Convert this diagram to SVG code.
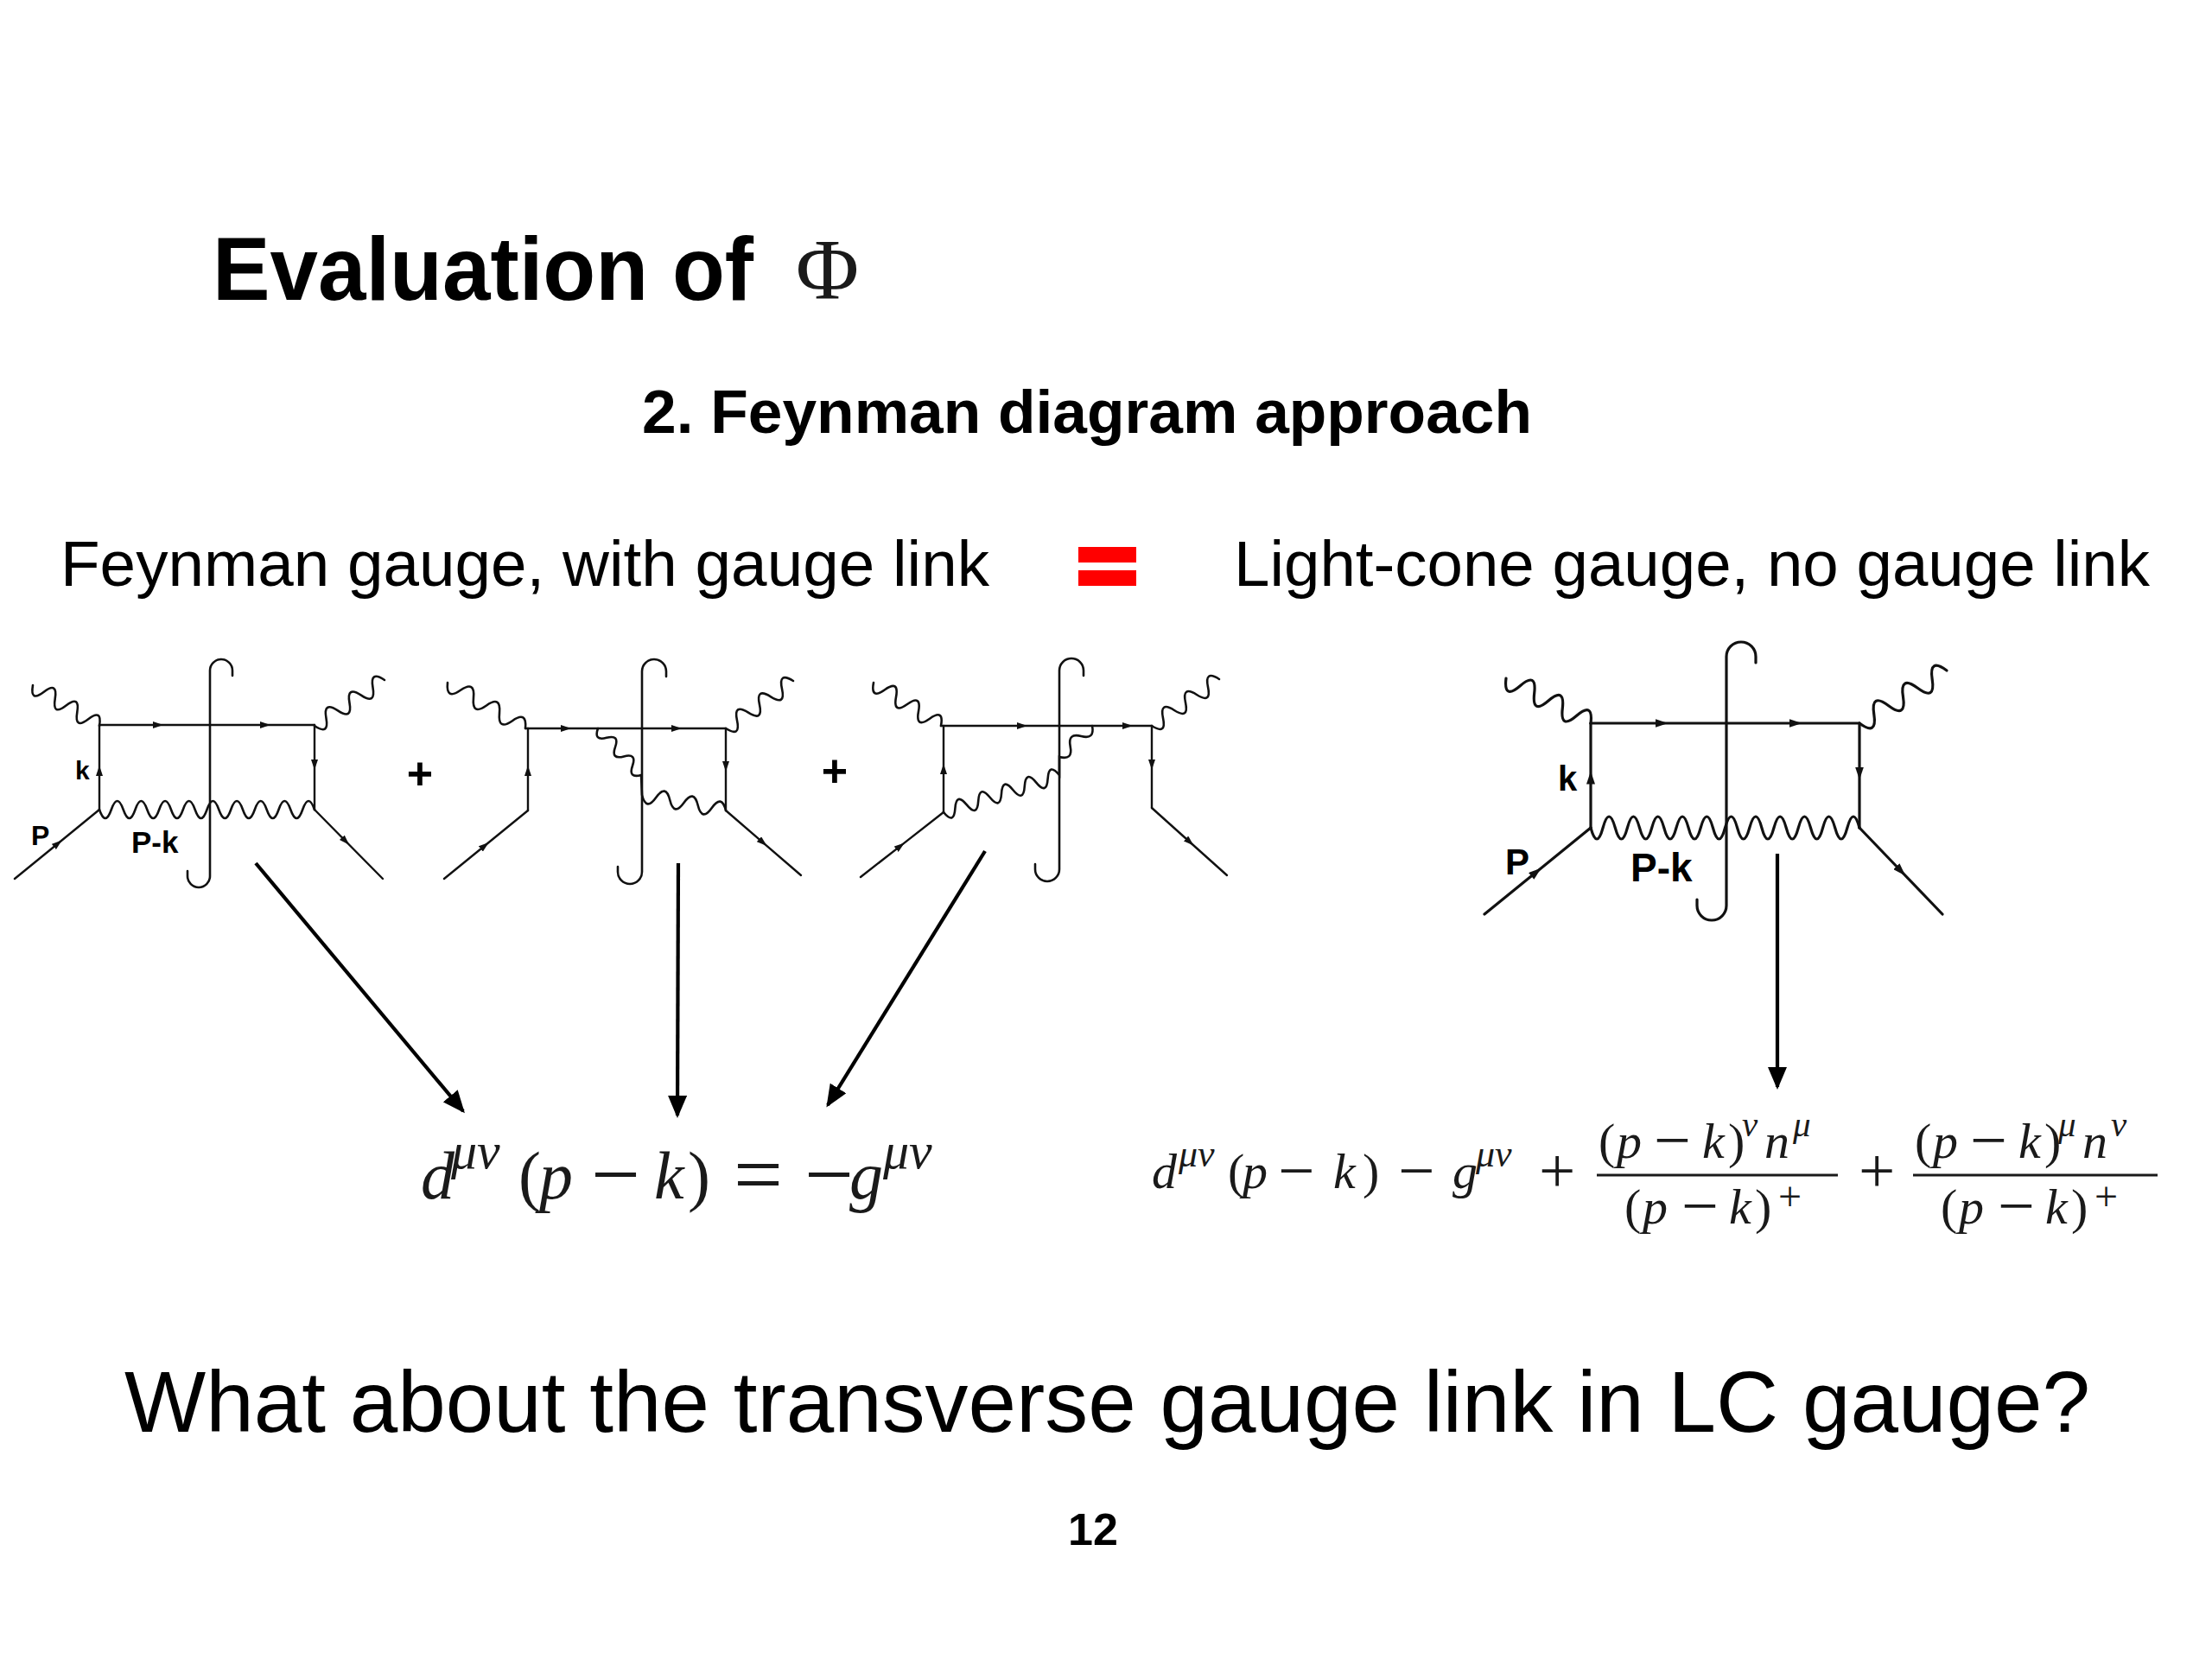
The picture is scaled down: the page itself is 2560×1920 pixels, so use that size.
<svg xmlns="http://www.w3.org/2000/svg" width="2560" height="1920" viewBox="0 0 2560 1920">
<defs>
<style>
.bg{fill:#fff}
.fl{fill:none;stroke:#111;stroke-width:2.4;stroke-linecap:round;stroke-linejoin:round}
.fa{marker-mid:url(#ar)}
.fb{marker-mid:url(#ar2)}
.wv{fill:none;stroke:#111;stroke-width:2.6;stroke-linecap:round}
.cut{fill:none;stroke:#111;stroke-width:2.6;stroke-linecap:round}
.thick{stroke-width:3.2}
.conn{fill:none;stroke:#000;stroke-width:4.2;marker-end:url(#big)}
.sans{font-family:"Liberation Sans",Arial,Helvetica,sans-serif;fill:#000}
.b{font-weight:bold}
.m{font-family:"Liberation Serif","Times New Roman",serif;fill:#1a1a1a}
.i{font-style:italic}
.bar{stroke:#1a1a1a;stroke-width:3}
</style>
<marker id="ar" viewBox="0 0 12 8" markerWidth="12" markerHeight="8" refX="6" refY="4" orient="auto" markerUnits="userSpaceOnUse"><path d="M0 0 L12 4 L0 8 Z" fill="#111"/></marker>
<marker id="ar2" viewBox="0 0 15 10" markerWidth="15" markerHeight="10" refX="7.5" refY="5" orient="auto" markerUnits="userSpaceOnUse"><path d="M0 0 L15 5 L0 10 Z" fill="#111"/></marker>
<marker id="big" viewBox="0 0 26 22" markerWidth="26" markerHeight="22" refX="23" refY="11" orient="auto" markerUnits="userSpaceOnUse"><path d="M0 0 L26 11 L0 22 Z" fill="#000"/></marker>
</defs>
<rect class="bg" x="0" y="0" width="2560" height="1920"/>

<g id="title">
<text class="sans b" x="246" y="347" font-size="104" textLength="626" lengthAdjust="spacingAndGlyphs">Evaluation of</text>
<text class="m" x="921" y="345" font-size="100">Φ</text>
</g>
<g id="subtitle">
<text class="sans b" x="743" y="501" font-size="70" textLength="1030" lengthAdjust="spacingAndGlyphs">2. Feynman diagram approach</text>
</g>
<g id="heading-left">
<text class="sans" x="70" y="678" font-size="75" textLength="1075" lengthAdjust="spacingAndGlyphs">Feynman gauge, with gauge link</text>
</g>
<g id="equals-sign">
<rect x="1248" y="633" width="67" height="18" fill="#ff0000"/>
<rect x="1248" y="660" width="67" height="18" fill="#ff0000"/>
</g>
<g id="heading-right">
<text class="sans" x="1428" y="678" font-size="75" textLength="1060" lengthAdjust="spacingAndGlyphs">Light-cone gauge, no gauge link</text>
</g>

<g id="diagram1">
<path class="wv" d="M38 793 Q34.5 813.2 50.8 800.8 T63.7 808.7 T76.5 816.5 T89.3 824.3 T102.2 832.2 T115 840"/>
<path class="wv" d="M364 840 Q381.2 851.5 377.5 831.2 T391 822.3 T404.5 813.5 T418 804.7 T431.5 795.8 T445 787"/>
<path class="wv" d="M115 937 Q121.9 957 128.8 937 T142.7 937 T156.5 937 T170.3 937 T184.2 937 T198 937 T211.8 937 T225.7 937 T239.5 937 T253.3 937 T267.2 937 T281 937 T294.8 937 T308.7 937 T322.5 937 T336.3 937 T350.2 937 T364 937"/>
<path class="fl fa" d="M115 839 L183 839 L307 839 L364 839"/>
<path class="fl fa" d="M115 937 L115 892 L115 839"/>
<path class="fl fa" d="M364 839 L364 885 L364 937"/>
<path class="fl fa" d="M17 1017 L67 976.2 L115 937"/>
<path class="fl fa" d="M364 937 L400 973.5 L443 1017"/>
<path class="cut" d="M269 782 L269 776 A13 13 0 0 0 243 776 L243 1014 A13 13 0 0 1 217 1014 L217 1008"/>
<text class="sans b" x="87" y="902" font-size="30">k</text>
<text class="sans b" x="36" y="978" font-size="32">P</text>
<text class="sans b" x="152" y="987" font-size="35">P-k</text>
</g>

<g id="plus1"><text class="sans b" x="486" y="913" font-size="52" text-anchor="middle">+</text></g>

<g id="diagram2">
<path class="wv" d="M518 790 Q515.9 810.8 533 798.8 T548 807.7 T563 816.5 T578 825.3 T593 834.2 T608 843"/>
<path class="wv" d="M840 843 Q857.5 854 853 833.8 T866 824.7 T879 815.5 T892 806.3 T905 797.2 T918 788"/>
<path class="wv" d="M692 843 Q686.7 857.9 702 853.8 T712 864.6 T722 875.4 T732 886.2 T742 897 L743 920 Q747.8 939.2 759.2 923 T775.3 926 T791.5 929 T807.7 932 T823.8 935 T840 938"/>
<path class="fl fa" d="M608 843 L655 843 L783 843 L840 843"/>
<path class="fl fa" d="M611 938 L611 892 L611 843"/>
<path class="fl fa" d="M840 843 L840 887 L840 938"/>
<path class="fl fa" d="M514 1017 L561 978.7 L611 938"/>
<path class="fl fa" d="M840 938 L883 975.1 L927 1013"/>
<path class="cut" d="M771 783 L771 777 A14 14 0 0 0 743 777 L743 1009 A14 14 0 0 1 715 1009 L715 1003"/>
</g>

<g id="plus2"><text class="sans b" x="966" y="910" font-size="52" text-anchor="middle">+</text></g>

<g id="diagram3">
<path class="wv" d="M1011 790 Q1007.2 810.2 1024 798.3 T1037 806.7 T1050 815 T1063 823.3 T1076 831.7 T1089 840"/>
<path class="wv" d="M1333 840 Q1350.3 851.1 1346 831 T1359 822 T1372 813 T1385 804 T1398 795 T1411 786"/>
<path class="wv" d="M1092 940 Q1104.2 955 1105.4 935.7 T1118.8 931.4 T1132.2 927.1 T1145.6 922.8 T1159 918.5 T1172.4 914.2 T1185.8 909.9 T1199.2 905.6 T1212.6 901.3 T1226 897 L1226 876 Q1242 880.2 1238.7 864 T1251.3 852 T1264 840"/>
<path class="fl fa" d="M1089 840 L1183 840 L1305 840 L1333 840"/>
<path class="fl fa" d="M1092 940 L1092 890 L1092 840"/>
<path class="fl fa" d="M1333 840 L1333 885 L1333 935"/>
<path class="fl fa" d="M996 1015 L1042 979.1 L1092 940"/>
<path class="fl fa" d="M1333 935 L1377 974.5 L1420 1013"/>
<path class="cut" d="M1254 782 L1254 776 A14 14 0 0 0 1226 776 L1226 1006 A14 14 0 0 1 1198 1006 L1198 1000"/>
</g>

<g id="diagram4">
<path class="wv thick" d="M1743 785 Q1739.9 810.5 1759.3 793.7 T1775.7 802.3 T1792 811 T1808.3 819.7 T1824.7 828.3 T1841 837"/>
<path class="wv thick" d="M2152 837 Q2172.8 852.5 2168.8 826.8 T2185.7 816.7 T2202.5 806.5 T2219.3 796.3 T2236.2 786.2 T2253 776"/>
<path class="wv thick" d="M1841 958 Q1848.1 984 1855.1 958 T1869.3 958 T1883.4 958 T1897.5 958 T1911.7 958 T1925.8 958 T1940 958 T1954.1 958 T1968.2 958 T1982.4 958 T1996.5 958 T2010.6 958 T2024.8 958 T2038.9 958 T2053 958 T2067.2 958 T2081.3 958 T2095.5 958 T2109.6 958 T2123.7 958 T2137.9 958 T2152 958"/>
<path class="fl fb thick" d="M1841 837 L1923 837 L2078 837 L2152 837"/>
<path class="fl fb thick" d="M1841 958 L1841 900 L1841 837"/>
<path class="fl fb thick" d="M2152 837 L2152 895 L2152 958"/>
<path class="fl fb thick" d="M1718 1058 L1778 1009.2 L1841 958"/>
<path class="fl fb thick" d="M2152 958 L2200 1008 L2248 1058"/>
<path class="cut thick" d="M2032 767 L2032 760 A17 17 0 0 0 1998 760 L1998 1048 A17 17 0 0 1 1964 1048 L1964 1041"/>
<text class="sans b" x="1803" y="915" font-size="40">k</text>
<text class="sans b" x="1742" y="1012" font-size="42">P</text>
<text class="sans b" x="1887" y="1020" font-size="46">P-k</text>
</g>

<g id="connectors">
<path class="conn" d="M296 999 L536 1286"/>
<path class="conn" d="M785 999 L784 1291"/>
<path class="conn" d="M1140 985 L958 1279"/>
<path class="conn" d="M2057 988 L2057 1258"/>
</g>

<g id="formula1">
<text class="m" y="1387" font-size="78"><tspan class="i" x="487" y="1387">d</tspan><tspan class="i" x="522" y="1352" font-size="60">μν</tspan><tspan x="600" y="1387">(</tspan><tspan class="i" x="624" y="1387">p</tspan><tspan x="684" y="1393" font-size="101">−</tspan><tspan class="i" x="757" y="1387">k</tspan><tspan x="796" y="1387">)</tspan><tspan x="849" y="1393" font-size="101">=</tspan><tspan x="931" y="1393" font-size="101">−</tspan><tspan class="i" x="983" y="1387">g</tspan><tspan class="i" x="1022" y="1352" font-size="60">μν</tspan></text>
</g>

<g id="formula2">
<text class="m" y="1375" font-size="58"><tspan class="i" x="1333" y="1375">d</tspan><tspan class="i" x="1364" y="1350" font-size="44">μν</tspan><tspan x="1421" y="1375">(</tspan><tspan class="i" x="1438" y="1375">p</tspan><tspan x="1479" y="1380" font-size="75">−</tspan><tspan class="i" x="1543" y="1375">k</tspan><tspan x="1577" y="1375">)</tspan><tspan x="1618" y="1380" font-size="75">−</tspan><tspan class="i" x="1681" y="1375">g</tspan><tspan class="i" x="1708" y="1350" font-size="44">μν</tspan><tspan x="1781" y="1380" font-size="75">+</tspan></text>
<line class="bar" x1="1848" y1="1360" x2="2127" y2="1360"/>
<text class="m" y="1340" font-size="58"><tspan x="1850" y="1340">(</tspan><tspan class="i" x="1871" y="1340">p</tspan><tspan x="1914" y="1345" font-size="76">−</tspan><tspan class="i" x="1970" y="1340">k</tspan><tspan x="2000" y="1340">)</tspan><tspan class="i" x="2016" y="1315" font-size="41">ν</tspan><tspan class="i" x="2042" y="1340">n</tspan><tspan class="i" x="2075" y="1315" font-size="41">μ</tspan></text>
<text class="m" y="1416" font-size="58"><tspan x="1880" y="1416">(</tspan><tspan class="i" x="1901" y="1416">p</tspan><tspan x="1946" y="1421" font-size="76">−</tspan><tspan class="i" x="2001" y="1416">k</tspan><tspan x="2031" y="1416">)</tspan><tspan x="2058" y="1401" font-size="48">+</tspan></text>
<text class="m" x="2151" y="1380" font-size="75">+</text>
<line class="bar" x1="2214" y1="1360" x2="2497" y2="1360"/>
<text class="m" y="1340" font-size="58"><tspan x="2216" y="1340">(</tspan><tspan class="i" x="2237" y="1340">p</tspan><tspan x="2280" y="1345" font-size="76">−</tspan><tspan class="i" x="2336" y="1340">k</tspan><tspan x="2366" y="1340">)</tspan><tspan class="i" x="2382" y="1315" font-size="41">μ</tspan><tspan class="i" x="2410" y="1340">n</tspan><tspan class="i" x="2443" y="1315" font-size="41">ν</tspan></text>
<text class="m" y="1416" font-size="58"><tspan x="2246" y="1416">(</tspan><tspan class="i" x="2267" y="1416">p</tspan><tspan x="2312" y="1421" font-size="76">−</tspan><tspan class="i" x="2367" y="1416">k</tspan><tspan x="2397" y="1416">)</tspan><tspan x="2424" y="1401" font-size="48">+</tspan></text>
</g>

<g id="question">
<text class="sans" x="144" y="1657" font-size="100" textLength="2275" lengthAdjust="spacingAndGlyphs">What about the transverse gauge link in LC gauge?</text>
</g>
<g id="page-number">
<text class="sans b" x="1265" y="1788" font-size="52" text-anchor="middle">12</text>
</g>
</svg>
